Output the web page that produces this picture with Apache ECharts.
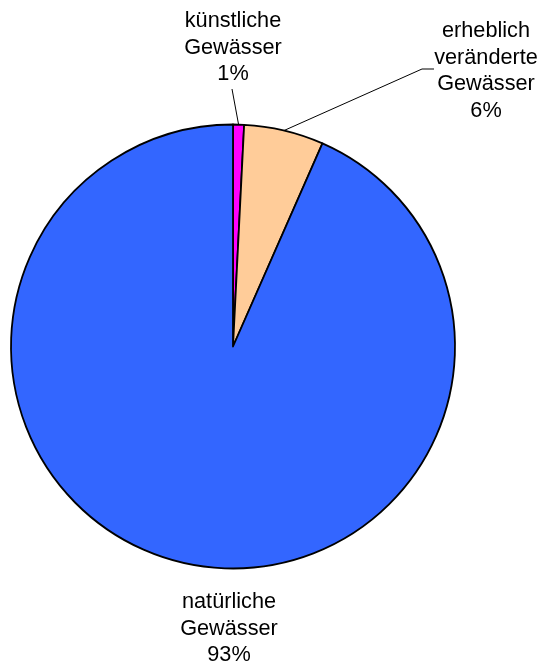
<!DOCTYPE html>
<html>
<head>
<meta charset="utf-8">
<script src="https://cdn.jsdelivr.net/npm/echarts@6/dist/echarts.min.js"></script>
<style>
  html, body { margin: 0; padding: 0; background: #ffffff; }
  #chart { width: 543px; height: 664px; }
</style>
</head>
<body>
<div id="chart"></div>
<script>
// Share of water bodies by category (percent)
const categories = ['künstliche\nGewässer', 'erheblich\nveränderte\nGewässer', 'natürliche\nGewässer'];
const shares = [0.8, 5.8, 93.4];
const colors = ['#FF00FF', '#FFCC99', '#3366FF'];

// Where each label block sits (centre of block) and the elbow of its leader line
const labelSpots = [
  { x: 233, y: 48, line: [[232, 89]] },
  { x: 486, y: 71, line: [[422, 69], [434, 69]] },
  { x: 229, y: 629, line: null }
];

const chart = echarts.init(document.getElementById('chart'), null, { renderer: 'canvas' });

chart.setOption({
  animation: false,
  backgroundColor: '#ffffff',
  series: [{
    type: 'pie',
    center: [233, 346.5],
    radius: [0, 222],
    startAngle: 90,
    clockwise: true,
    percentPrecision: 0,
    avoidLabelOverlap: false,
    itemStyle: { borderColor: '#000000', borderWidth: 1.8 },
    emphasis: { disabled: true },
    label: {
      show: true,
      position: 'outside',
      formatter: '{b}\n{d}%',
      fontFamily: 'Liberation Sans, Arial, sans-serif',
      fontSize: 21.7,
      lineHeight: 26.5,
      color: '#000000',
      align: 'center'
    },
    labelLine: {
      show: true,
      length: 10,
      length2: 10,
      smooth: false,
      lineStyle: { color: '#000000', width: 1 }
    },
    labelLayout: function (params) {
      const spot = labelSpots[params.dataIndex];
      const out = { x: spot.x, y: spot.y, align: 'center', verticalAlign: 'middle' };
      if (spot.line && params.labelLinePoints) {
        out.labelLinePoints = [params.labelLinePoints[0]].concat(spot.line);
      }
      return out;
    },
    data: categories.map(function (name, i) {
      const item = { name: name, value: shares[i], itemStyle: { color: colors[i] } };
      if (!labelSpots[i].line) item.labelLine = { show: false };
      return item;
    })
  }]
});
</script>
</body>
</html>
